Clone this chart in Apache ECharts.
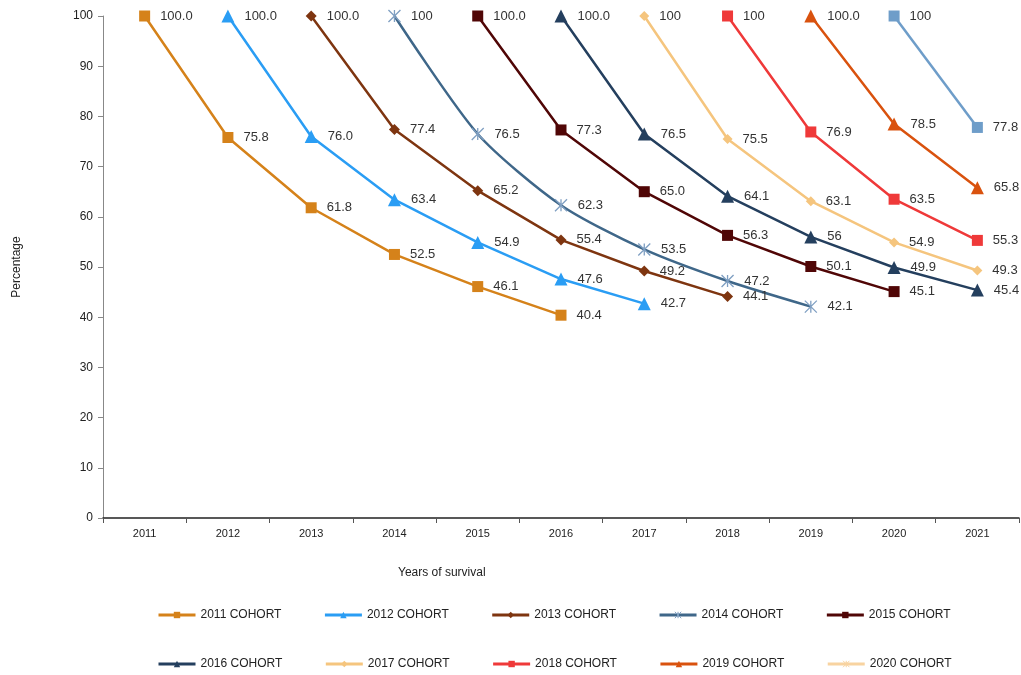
<!DOCTYPE html>
<html>
<head>
<meta charset="utf-8">
<script src="https://cdn.jsdelivr.net/npm/echarts@6/dist/echarts.min.js"></script>
<style>
  html, body { margin: 0; padding: 0; background: #fff; }
  #main { width: 1021px; height: 675px; }
</style>
</head>
<body>
<div id="main"></div>
<script>
// years on the x axis
const years = ['2011', '2012', '2013', '2014', '2015', '2016', '2017', '2018', '2019', '2020', '2021'];
const yTicks = [0, 10, 20, 30, 40, 50, 60, 70, 80, 90, 100];

// survival per cohort, as printed on the chart (text kept so "100" vs "100.0" stays)
const c2011 = ['100.0', '75.8', '61.8', '52.5', '46.1', '40.4'];
const c2012 = ['100.0', '76.0', '63.4', '54.9', '47.6', '42.7'];
const c2013 = ['100.0', '77.4', '65.2', '55.4', '49.2', '44.1'];
const c2014 = ['100', '76.5', '62.3', '53.5', '47.2', '42.1'];
const c2015 = ['100.0', '77.3', '65.0', '56.3', '50.1', '45.1'];
const c2016 = ['100.0', '76.5', '64.1', '56', '49.9', '45.4'];
const c2017 = ['100', '75.5', '63.1', '54.9', '49.3'];
const c2018 = ['100', '76.9', '63.5', '55.3'];
const c2019 = ['100.0', '78.5', '65.8'];
const c2020 = ['100', '77.8'];

const FONT = '"Liberation Sans", Arial, sans-serif';
const STAR = 'path://M0,0L10,10M10,0L0,10M5,0L5,10';

const cohorts = [
  { name: '2011 COHORT', start: 0, vals: c2011, color: '#D5821A', symbol: 'rect', size: 11 },
  { name: '2012 COHORT', start: 1, vals: c2012, color: '#2A9DF4', symbol: 'triangle', size: 13 },
  { name: '2013 COHORT', start: 2, vals: c2013, color: '#7E3510', symbol: 'diamond', size: 11 },
  { name: '2014 COHORT', start: 3, vals: c2014, color: '#3F6789', symbol: STAR, size: 12, smooth: true, marker: '#7F9FC2' },
  { name: '2015 COHORT', start: 4, vals: c2015, color: '#500606', symbol: 'rect', size: 11 },
  { name: '2016 COHORT', start: 5, vals: c2016, color: '#243F5E', symbol: 'triangle', size: 13 },
  { name: '2017 COHORT', start: 6, vals: c2017, color: '#F5C57E', symbol: 'diamond', size: 10 },
  { name: '2018 COHORT', start: 7, vals: c2018, color: '#EF3939', symbol: 'rect', size: 11 },
  { name: '2019 COHORT', start: 8, vals: c2019, color: '#D9520E', symbol: 'triangle', size: 13 },
  // the legend of the original shows this one as a cream line with a star marker
  { name: '2020 COHORT', start: 9, vals: c2020, color: '#6E9DC9', symbol: 'rect', size: 11, legendColor: '#F8D3A0', legendStar: true }
];

const series = cohorts.map(c => {
  const data = [];
  for (let i = 0; i < c.start; i++) data.push('-');
  c.vals.forEach(v => {
    const d = { value: Number(v), txt: v };
    if (c.legendStar) d.symbol = c.symbol;
    data.push(d);
  });
  const s = {
    name: c.name,
    type: 'line',
    data: data,
    symbol: c.legendStar ? STAR : c.symbol,
    symbolSize: c.size,
    smooth: c.smooth ? 0.25 : false,
    lineStyle: { color: c.color, width: 2.5 },
    itemStyle: { color: c.color },
    label: {
      show: true,
      position: 'right',
      distance: 10,
      color: '#333',
      fontSize: 13,
      fontFamily: FONT,
      formatter: p => p.data.txt
    },
    emphasis: { disabled: true }
  };
  if (c.marker) {
    s.itemStyle = { color: 'rgba(0,0,0,0)', borderColor: c.marker, borderWidth: 1.3 };
  }
  return s;
});

function legendData(list) {
  return list.map(c => {
    const col = c.legendColor || c.color;
    let item;
    if (c.marker) item = { color: 'rgba(0,0,0,0)', borderColor: c.marker, borderWidth: 1 };
    else if (c.legendStar) item = { color: 'rgba(0,0,0,0)', borderColor: col, borderWidth: 1 };
    else item = { color: col, borderWidth: 0 };
    return { name: c.name, itemStyle: item, lineStyle: { color: col, width: 3 } };
  });
}

const legendBase = {
  orient: 'horizontal',
  left: 157,
  padding: 0,
  itemWidth: 37,
  itemHeight: 8,
  itemGap: 42,
  textStyle: { fontSize: 12, fontFamily: FONT, color: '#222' },
  selectedMode: false
};

const option = {
  animation: false,
  backgroundColor: '#fff',
  grid: { left: 103, right: 2, top: 16, bottom: 157, containLabel: false },
  legend: [
    Object.assign({}, legendBase, { top: 609, data: legendData(cohorts.slice(0, 5)) }),
    Object.assign({}, legendBase, { top: 658, data: legendData(cohorts.slice(5)) })
  ],
  xAxis: {
    type: 'category',
    data: years,
    boundaryGap: true,
    axisLine: { lineStyle: { color: '#222', width: 1.5 } },
    axisTick: { show: true, alignWithLabel: false, length: 5, lineStyle: { color: '#555' } },
    axisLabel: { fontSize: 11, fontFamily: FONT, color: '#222', margin: 10 },
    splitLine: { show: false }
  },
  yAxis: {
    type: 'value',
    min: yTicks[0],
    max: yTicks[yTicks.length - 1],
    interval: 10,
    name: 'Percentage',
    nameLocation: 'middle',
    nameGap: 80,
    nameRotate: 90,
    nameTextStyle: { fontSize: 12, fontFamily: FONT, color: '#222' },
    axisLine: { show: true, lineStyle: { color: '#888' } },
    axisTick: { show: true, inside: false, length: 5, lineStyle: { color: '#888' } },
    axisLabel: { fontSize: 12, fontFamily: FONT, color: '#222', margin: 10 },
    splitLine: { show: false }
  },
  graphic: [
    {
      type: 'text',
      left: 398,
      top: 567,
      style: { text: 'Years of survival', fontSize: 12, fontFamily: FONT, fill: '#222' }
    }
  ],
  series: series
};

const chart = echarts.init(document.getElementById('main'), null, { renderer: 'canvas' });
chart.setOption(option);
</script>
</body>
</html>
